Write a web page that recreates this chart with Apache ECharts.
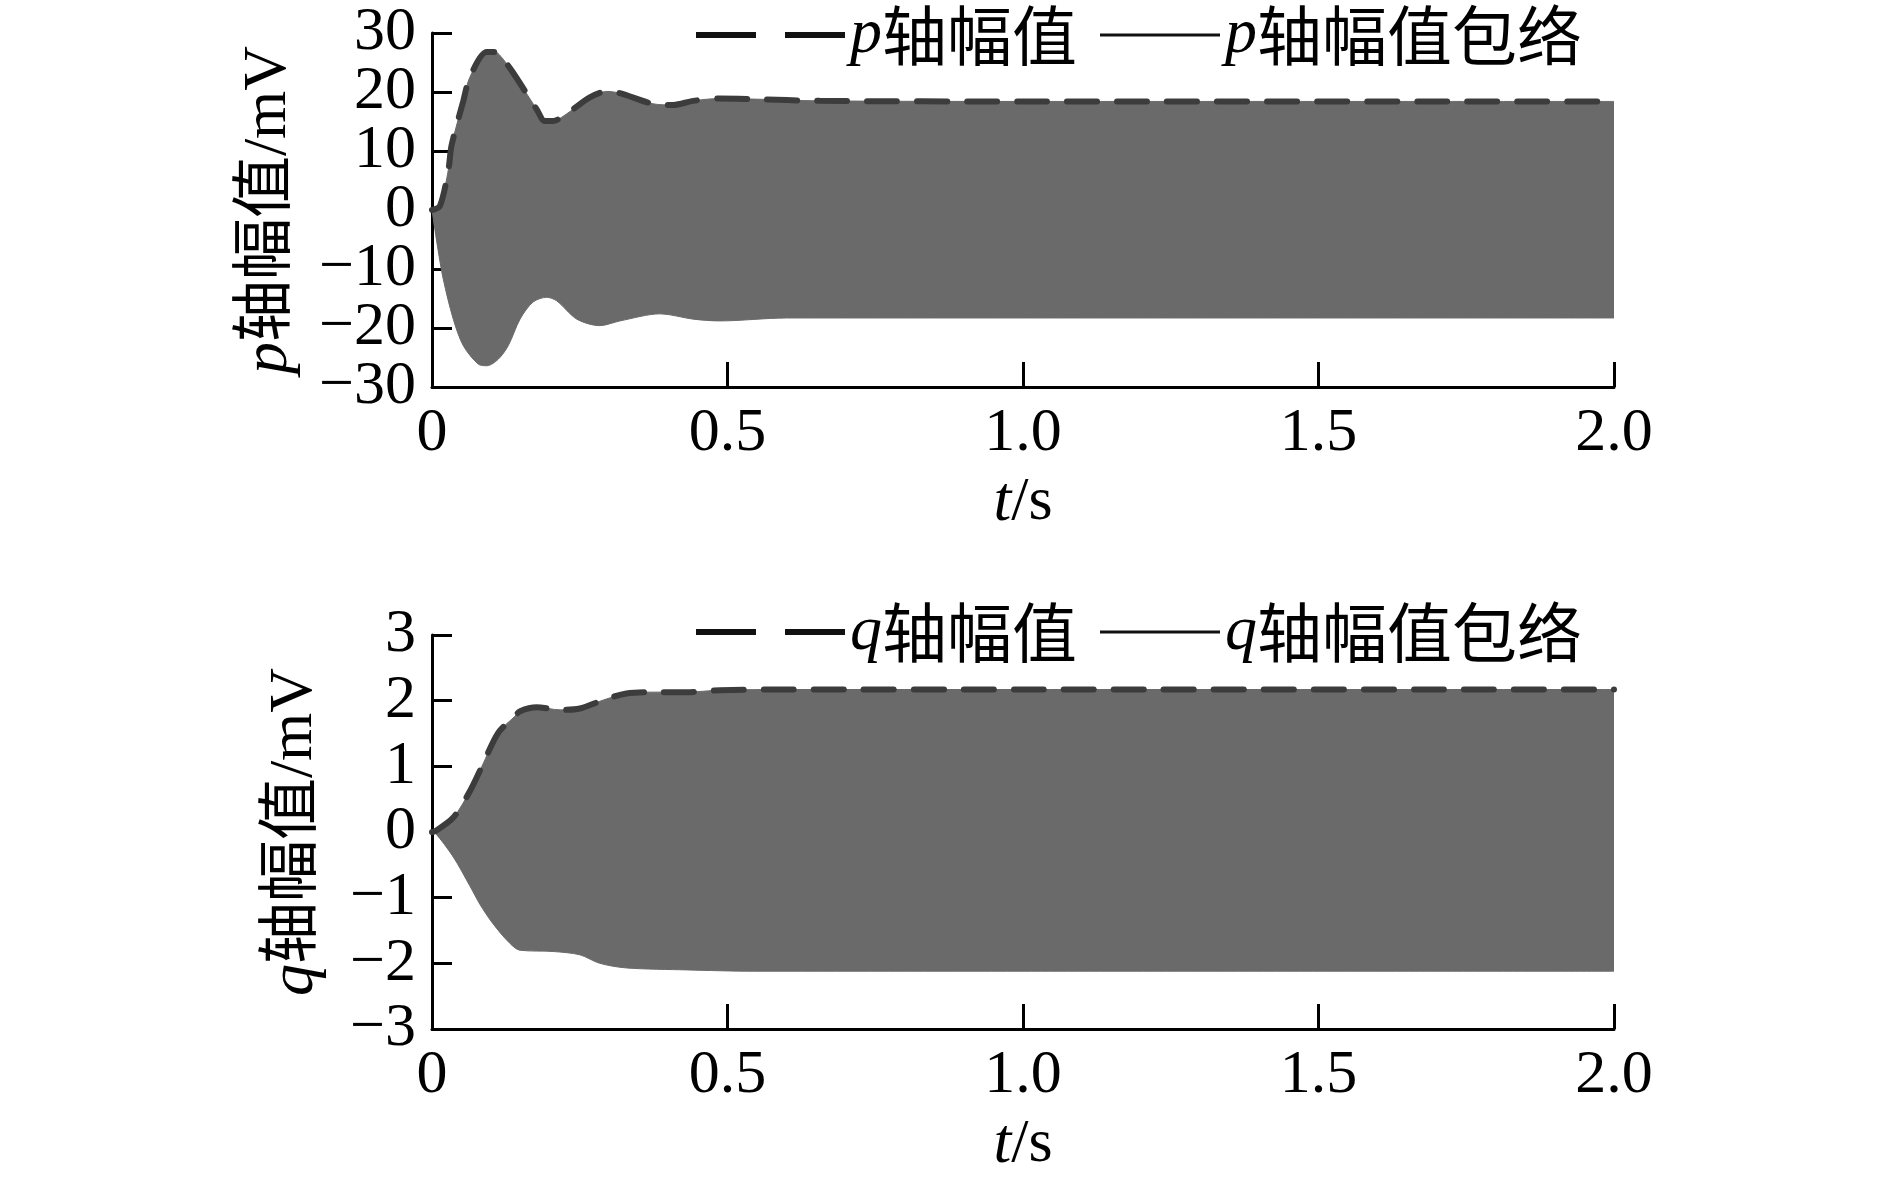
<!DOCTYPE html>
<html>
<head>
<meta charset="utf-8">
<script src="https://cdn.jsdelivr.net/npm/echarts@6/dist/echarts.min.js"></script>
<style>
  html, body { margin: 0; padding: 0; background: #fff; }
  #main { width: 1889px; height: 1178px; }
</style>
</head>
<body>
<div id="main"></div>
<script>
// p轴 上包络
var pUpperT = [0, 0.0135, 0.028, 0.033, 0.053, 0.064, 0.0925, 0.107, 0.115, 0.135, 0.177, 0.191, 0.205, 0.228, 0.267, 0.296, 0.318, 0.374, 0.408, 0.442, 0.487, 0.544, 0.656, 1.0, 2.0];
var pUpper  = [0, 0.7, 7, 10.9, 18.5, 22.5, 26.8, 26.8, 26.2, 23.6, 17.1, 15.1, 15.1, 16.3, 19.1, 20.1, 19.8, 18.0, 17.8, 18.5, 18.9, 18.8, 18.5, 18.4, 18.4];
// p轴 下包络
var pLowerT = [0, 0.01, 0.019, 0.036, 0.053, 0.078, 0.093, 0.112, 0.129, 0.149, 0.171, 0.194, 0.211, 0.245, 0.284, 0.318, 0.386, 0.442, 0.487, 0.6, 1.0, 2.0];
var pLower  = [0, -6.6, -11.7, -18.5, -23, -26.1, -26.4, -25.3, -23, -18.5, -15.6, -14.8, -15.4, -18.5, -19.6, -18.8, -17.6, -18.5, -18.8, -18.3, -18.3, -18.3];

// q轴 上包络
var qUpperT = [0, 0.005, 0.036, 0.064, 0.084, 0.112, 0.14, 0.149, 0.177, 0.217, 0.25, 0.29, 0.329, 0.374, 0.431, 0.487, 0.6, 1.0, 2.0];
var qUpper  = [0, 0.01, 0.22, 0.62, 0.99, 1.51, 1.76, 1.84, 1.90, 1.86, 1.88, 2.01, 2.11, 2.13, 2.13, 2.16, 2.17, 2.17, 2.17];
// q轴 下包络
var qLowerT = [0, 0.005, 0.036, 0.064, 0.081, 0.101, 0.129, 0.149, 0.205, 0.25, 0.284, 0.329, 0.431, 0.544, 1.0, 2.0];
var qLower  = [0, -0.01, -0.38, -0.82, -1.10, -1.37, -1.67, -1.80, -1.82, -1.87, -2.00, -2.07, -2.10, -2.12, -2.12, -2.12];

var pTicks = [-30, 30, 10];   // min, max, interval
var qTicks = [-3, 3, 1];

function pairs(ts, vs) {
    var out = [];
    for (var i = 0; i < ts.length; i++) out.push([ts[i], vs[i]]);
    return out;
}

var fill = '#6a6a6a';
var dashIcon = 'path://M0,0H60V6H0Z M89,0H149V6H89Z';
var lineIcon = 'path://M0,0H120V3H0Z';

var labelFont = { fontSize: 62, fontFamily: 'Liberation Serif', color: '#000' };
var rich = {
    i: { fontFamily: 'Liberation Serif', fontStyle: 'italic', fontSize: 64, color: '#000' }
};

function minusFmt(v) { return v < 0 ? '\u2212' + Math.abs(v) : String(v); }

function xAxisOf(gi) {
    return {
        gridIndex: gi, type: 'value', min: 0, max: 2, interval: 0.5,
        name: '{i|t}/s', nameLocation: 'middle', nameGap: 84,
        nameTextStyle: { fontSize: 62, fontFamily: 'Liberation Serif', color: '#000', rich: rich },
        axisLine: { show: true, onZero: false, lineStyle: { color: '#000', width: 3 } },
        axisTick: { show: true, inside: true, length: 25, lineStyle: { color: '#000', width: 3 } },
        splitLine: { show: false },
        axisLabel: Object.assign({ margin: 16, showMinLabel: true, showMaxLabel: true,
            formatter: function (v) { return v === 0 ? '0' : v.toFixed(1); } }, labelFont)
    };
}

function yAxisOf(gi, t, name, gap, showEnds) {
    return {
        gridIndex: gi, type: 'value', min: t[0], max: t[1], interval: t[2],
        name: name, nameLocation: 'middle', nameGap: gap, nameRotate: 90,
        nameTextStyle: { fontSize: 62, fontFamily: 'Liberation Serif, Noto Sans CJK SC', color: '#000', rich: rich },
        axisLine: { show: true, onZero: false, lineStyle: { color: '#000', width: 3 } },
        axisTick: { show: true, inside: true, length: 20, lineStyle: { color: '#000', width: 3 } },
        splitLine: { show: false },
        axisLabel: Object.assign({ margin: 16, showMinLabel: showEnds, showMaxLabel: showEnds,
            formatter: minusFmt }, labelFont)
    };
}

// 上图标签太密，两端的 30 / −30 用一根只有端点的辅助轴画
function endAxisOf(gi, t) {
    return {
        gridIndex: gi, type: 'value', position: 'left', min: t[0], max: t[1], interval: t[1],
        axisLine: { show: false, onZero: false },
        axisTick: { show: true, inside: true, length: 20, lineStyle: { color: '#000', width: 3 } },
        splitLine: { show: false },
        axisLabel: Object.assign({ margin: 16, showMinLabel: true, showMaxLabel: true,
            formatter: function (v) { return v === 0 ? '' : minusFmt(v); } }, labelFont)
    };
}

function band(name, gi, data) {
    return {
        name: name, type: 'line', xAxisIndex: gi, yAxisIndex: gi, data: data,
        showSymbol: false, smooth: 0.3, z: 1,
        itemStyle: { color: fill },
        lineStyle: { color: fill, width: 1 },
        areaStyle: { color: fill, opacity: 1 }
    };
}

function envelope(name, gi, data) {
    return {
        name: name, type: 'line', xAxisIndex: gi, yAxisIndex: gi, data: data,
        showSymbol: false, smooth: 0.3, z: 3,
        itemStyle: { color: '#3c3c3c' },
        lineStyle: { color: '#3c3c3c', width: 6, type: [30, 20], cap: 'round' }
    };
}

function legendOf(name, icon, w, h, left, top) {
    return {
        data: [{ name: name, icon: icon }],
        left: left, top: top, itemWidth: w, itemHeight: h,
        selectedMode: false, padding: 0,
        itemStyle: { color: '#111', borderWidth: 0 },
        formatter: function (n) { return '{i|' + n.charAt(0) + '}' + n.slice(1); },
        textStyle: { fontSize: 65, fontFamily: 'Noto Sans CJK SC', color: '#000', lineHeight: 66, rich: rich }
    };
}

var myChart = echarts.init(document.getElementById('main'));

var option = {
    animation: false,
    backgroundColor: '#fff',
    grid: [
        { left: 432, top: 33, width: 1182, height: 354 },
        { left: 432, top: 635, width: 1182, height: 402 }
    ],
    legend: [
        legendOf('p轴幅值', dashIcon, 149, 6, 696, 2),
        legendOf('p轴幅值包络', lineIcon, 120, 3, 1100, 2),
        legendOf('q轴幅值', dashIcon, 149, 6, 696, 599),
        legendOf('q轴幅值包络', lineIcon, 120, 3, 1100, 599)
    ],
    xAxis: [xAxisOf(0), xAxisOf(1)],
    yAxis: [
        yAxisOf(0, pTicks, '{i|p}轴幅值/mV', 131, false),
        yAxisOf(1, qTicks, '{i|q}轴幅值/mV', 105, true),
        endAxisOf(0, pTicks)
    ],
    series: [
        band('p轴幅值', 0, pairs(pUpperT, pUpper)),
        band('p轴幅值', 0, pairs(pLowerT, pLower)),
        envelope('p轴幅值包络', 0, pairs(pUpperT, pUpper)),
        band('q轴幅值', 1, pairs(qUpperT, qUpper)),
        band('q轴幅值', 1, pairs(qLowerT, qLower)),
        envelope('q轴幅值包络', 1, pairs(qUpperT, qUpper))
    ]
};

myChart.setOption(option, true);
</script>
</body>
</html>
